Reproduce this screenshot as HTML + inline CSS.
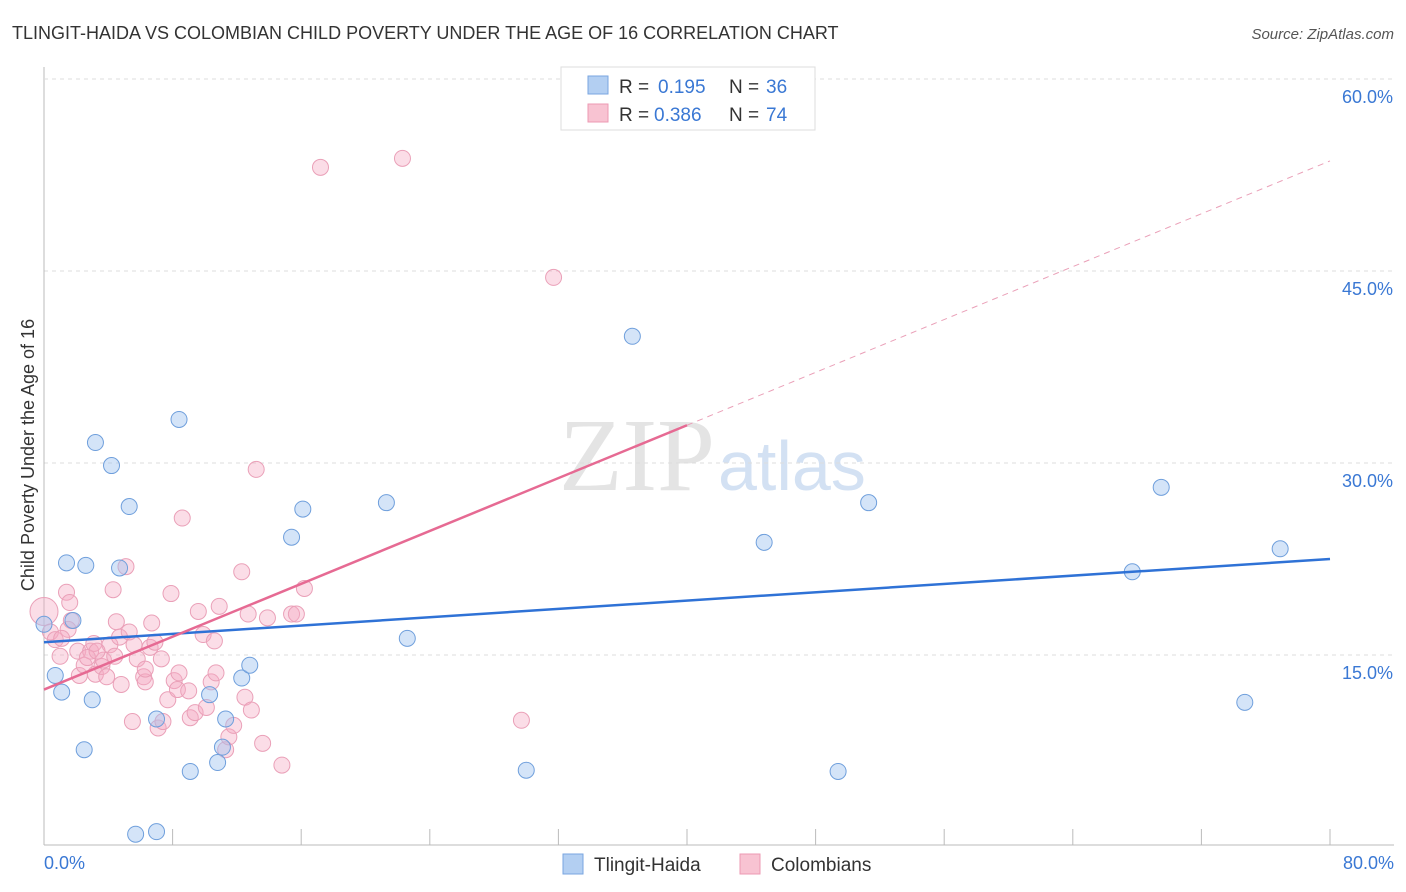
<!DOCTYPE html>
<html><head><meta charset="utf-8"><style>
body{margin:0;background:#fff;font-family:"Liberation Sans",sans-serif;}
#w{position:relative;width:1406px;height:892px;overflow:hidden;}
</style></head><body><div id="w">
<svg id="s" width="1406" height="892" xmlns="http://www.w3.org/2000/svg">
<text x="12" y="39" font-size="18" fill="#333">TLINGIT-HAIDA VS COLOMBIAN CHILD POVERTY UNDER THE AGE OF 16 CORRELATION CHART</text>
<text x="1394" y="39" font-size="15" fill="#555" text-anchor="end" font-style="italic">Source: ZipAtlas.com</text>
<text x="715" y="490" font-size="104" fill="#e4e4e4" text-anchor="end" font-family="Liberation Serif">ZIP</text>
<text x="718" y="490" font-size="70" fill="#d3e1f3">atlas</text>
<text transform="translate(34,455) rotate(-90)" font-size="18" fill="#333" text-anchor="middle">Child Poverty Under the Age of 16</text>
<g id="grid"></g><g id="pts"></g><g id="lines"></g>
<g>
<rect x="561" y="67" width="254" height="63" fill="#fff" stroke="#ddd"/>
<rect x="588" y="76" width="20" height="18" fill="#b3cff2" stroke="#7aa6e0"/>
<rect x="588" y="104" width="20" height="18" fill="#f8c3d2" stroke="#ec9ab3"/>
<text x="619" y="93" font-size="19" fill="#333">R =</text>
<text x="658" y="93" font-size="19" fill="#3a78d4">0.195</text>
<text x="729" y="93" font-size="19" fill="#333">N =</text>
<text x="766" y="93" font-size="19" fill="#3a78d4">36</text>
<text x="619" y="121" font-size="19" fill="#333">R =</text>
<text x="654" y="121" font-size="19" fill="#3a78d4">0.386</text>
<text x="729" y="121" font-size="19" fill="#333">N =</text>
<text x="766" y="121" font-size="19" fill="#3a78d4">74</text>
</g>
<g>
<rect x="563" y="854" width="20" height="20" fill="#b3cff2" stroke="#7aa6e0"/>
<text x="594" y="871" font-size="19" fill="#333">Tlingit-Haida</text>
<rect x="740" y="854" width="20" height="20" fill="#f8c3d2" stroke="#ec9ab3"/>
<text x="771" y="871" font-size="19" fill="#333">Colombians</text>
</g>
</svg></div>
<script>
const yTicks=[15,30,45,60];
const xTickLabels=["0.0%","80.0%"];
const blueX=[0,0.7,1.1,1.4,1.8,2.5,2.6,3,3.2,4.2,4.7,5.3,5.7,7,7,8.4,9.1,10.3,10.8,11.1,11.3,12.3,12.8,15.4,16.1,21.3,22.6,30,36.6,44.8,49.4,51.3,67.7,69.5,74.7,76.9];
const blueY=[17.4,13.4,12.1,22.2,17.7,7.6,22,11.5,31.6,29.8,21.8,26.6,1,1.2,10,33.4,5.9,11.9,6.6,7.8,10,13.2,14.2,24.2,26.4,26.9,16.3,6,39.9,23.8,5.9,26.9,21.5,28.1,11.3,23.3];
const pinkX=[0,0.4,0.7,1,1.4,1.5,1.7,2.1,2.2,2.5,2.9,3.1,3.2,3.6,3.7,3.9,4.1,4.3,4.5,4.7,4.8,5.1,5.3,5.5,5.6,5.8,6.2,6.3,6.6,6.7,6.9,7.1,7.3,7.4,7.7,7.9,8.1,8.3,8.4,8.6,9,9.1,9.4,9.6,9.9,10.1,10.4,10.6,10.7,10.9,11.3,11.5,11.8,12.3,12.5,12.7,12.9,13.2,13.6,13.9,14.8,15.4,15.7,16.2,17.2,22.3,29.7,31.7,1.1,1.6,2.7,3.3,4.4,6.3];
const pinkY=[18.4,16.8,16.2,14.9,19.9,17,17.7,15.3,13.4,14.2,15.3,15.9,13.5,14.1,14.6,13.3,15.8,20.1,17.6,16.4,12.7,21.9,16.8,9.8,15.8,14.7,13.3,12.9,15.6,17.5,16,9.3,14.7,9.8,11.5,19.8,13,12.3,13.6,25.7,12.2,10.1,10.5,18.4,16.6,10.9,12.9,16.1,13.6,18.8,7.6,8.6,9.5,21.5,11.7,18.2,10.7,29.5,8.1,17.9,6.4,18.2,18.2,20.2,53.1,53.8,9.9,44.5,16.3,19.1,14.8,15.3,14.9,13.9];
const blueLine=[16.0,22.5];
const pinkLine=[12.3,53.6];
const NS="http://www.w3.org/2000/svg";
const X=v=>44+v*16.075, Y=v=>847-v*12.8;
function mk(t,a,p){const e=document.createElementNS(NS,t);for(const k in a)e.setAttribute(k,a[k]);p.appendChild(e);return e;}
const g=document.getElementById('grid');
for(const t of yTicks){
 const l=mk('line',{x1:44,x2:1394,y1:Y(t),y2:Y(t),stroke:'#ddd','stroke-dasharray':'4,4'},g);
 
 
 const tx=mk('text',{x:1393,y:Y(t)+24,'font-size':18,fill:'#3a78d4','text-anchor':'end'},g);
 tx.textContent=t.toFixed(1)+'%';
 
 
}
const ax=mk('line',{x1:44,x2:1394,y1:845,y2:845,stroke:'#bbb'},g);


const ay=mk('line',{x1:44,x2:44,y1:67,y2:845,stroke:'#bbb'},g);


for(let i=0;i<=10;i++){const tk=mk('line',{x1:X(i*8),x2:X(i*8),y1:829,y2:845,stroke:'#bbb'},g);
 
 }
const l0=mk('text',{x:44,y:869,'font-size':18,fill:'#3a78d4'},g);l0.textContent=xTickLabels[0];


const l1=mk('text',{x:1394,y:869,'font-size':18,fill:'#3a78d4','text-anchor':'end'},g);l1.textContent=xTickLabels[1];


const P=document.getElementById('pts');
pinkX.forEach((x,i)=>{const c=mk('circle',{cx:X(x),cy:Y(pinkY[i]),r:i==0?14:8,fill:'rgba(244,170,195,0.4)',stroke:'#eaa0b8','stroke-width':1},P);
 
 });
blueX.forEach((x,i)=>{const c=mk('circle',{cx:X(x),cy:Y(blueY[i]),r:8,fill:'rgba(160,195,240,0.45)',stroke:'#6f9fdc','stroke-width':1},P);
 
 });
const L=document.getElementById('lines');
const bl=mk('line',{x1:X(0),y1:Y(blueLine[0]),x2:X(80),y2:Y(blueLine[1]),stroke:'#2f72d6','stroke-width':2.5},L);


const pm=pinkLine[0]+(pinkLine[1]-pinkLine[0])/2;
const pl=mk('line',{x1:X(0),y1:Y(pinkLine[0]),x2:X(40),y2:Y(pm),stroke:'#e66a93','stroke-width':2.5},L);


const pd=mk('line',{x1:X(40),y1:Y(pm),x2:X(80),y2:Y(pinkLine[1]),stroke:'#eaa0b8','stroke-width':1,'stroke-dasharray':'6,5'},L);


const topLine=mk('line',{x1:44,x2:1394,y1:79,y2:79,stroke:'#ddd','stroke-dasharray':'4,4'},g);


</script></body></html>
